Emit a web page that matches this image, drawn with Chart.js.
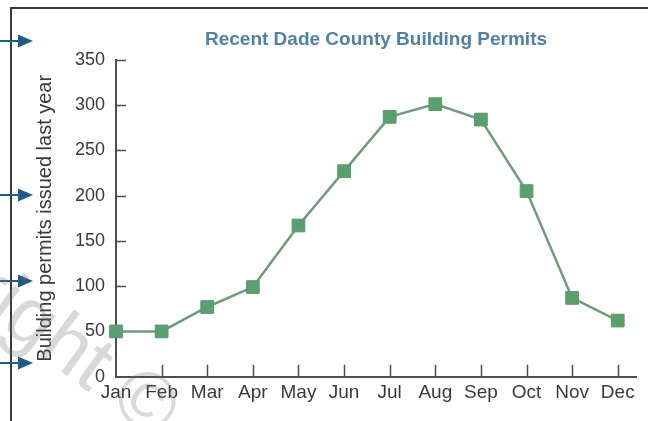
<!DOCTYPE html>
<html>
<head>
<meta charset="utf-8">
<script src="https://cdn.jsdelivr.net/npm/chart.js@4.4.1/dist/chart.umd.min.js"></script>
<style>
    html, body { margin: 0; padding: 0; background: #fff; }
    #chart { display: block; }
</style>
</head>
<body>
<canvas id="chart" width="648" height="421"></canvas>
<script>
const months = ['Jan', 'Feb', 'Mar', 'Apr', 'May', 'Jun', 'Jul', 'Aug', 'Sep', 'Oct', 'Nov', 'Dec'];
const permits = [50, 50, 77, 99, 167, 227, 287, 301, 284, 205, 87, 62];
const yTicks = [0, 50, 100, 150, 200, 250, 300, 350];

const chartTitle = 'Recent Dade County Building Permits';
const yTitle = 'Building permits issued last year';

const fontFamily = '"Liberation Sans", Arial, Helvetica, sans-serif';
const axisColor = '#4d4d4d';
const arrowRows = [41, 195, 281, 363];

// page frame + the blue pointer arrows down the left edge
const framePlugin = {
    id: 'frame',
    beforeDraw(chart) {
        const ctx = chart.ctx;
        ctx.save();
        ctx.fillStyle = '#fff';
        ctx.fillRect(0, 0, chart.width, chart.height);

        ctx.strokeStyle = '#3a3a3a';
        ctx.lineWidth = 2;
        ctx.beginPath();
        ctx.moveTo(11, chart.height);
        ctx.lineTo(11, 8);
        ctx.lineTo(chart.width, 8);
        ctx.stroke();

        ctx.strokeStyle = '#1f5b86';
        ctx.fillStyle = '#1f5b86';
        ctx.lineWidth = 2;
        arrowRows.forEach(y => {
            ctx.beginPath();
            ctx.moveTo(0, y);
            ctx.lineTo(20, y);
            ctx.stroke();
            ctx.beginPath();
            ctx.moveTo(18, y - 6.5);
            ctx.lineTo(33, y);
            ctx.lineTo(18, y + 6.5);
            ctx.closePath();
            ctx.fill();
        });
        ctx.restore();
    }
};

// faint grey copyright stamp running diagonally under the plot
const stampPlugin = {
    id: 'stamp',
    beforeDatasetsDraw(chart) {
        const ctx = chart.ctx;
        ctx.save();
        ctx.translate(155, 440);
        ctx.rotate(36 * Math.PI / 180);
        ctx.font = '80px ' + fontFamily;
        ctx.textAlign = 'right';
        ctx.textBaseline = 'alphabetic';
        ctx.fillStyle = 'rgba(110, 110, 110, 0.26)';
        ctx.fillText('Copyright \u00a9', 0, 0);
        ctx.restore();
    }
};

// tick marks point into the plot instead of out
const innerTicks = {
    id: 'innerTicks',
    beforeDatasetsDraw(chart) {
        const {ctx, chartArea: area, scales: {x, y}} = chart;
        ctx.save();
        ctx.strokeStyle = axisColor;
        ctx.lineWidth = 1.5;
        ctx.beginPath();
        y.ticks.forEach(t => {
            if (t.value === 0) return;
            const py = Math.round(y.getPixelForValue(t.value)) + 0.5;
            ctx.moveTo(area.left, py);
            ctx.lineTo(area.left + 10, py);
        });
        x.ticks.forEach(t => {
            if (t.value === 0) return;
            const px = Math.round(x.getPixelForValue(t.value)) + 0.5;
            ctx.moveTo(px, area.bottom);
            ctx.lineTo(px, area.bottom - 12);
        });
        ctx.stroke();
        ctx.restore();
    }
};

const data = {
    datasets: [{
        data: permits.map((v, i) => ({x: i, y: v})),
        borderColor: '#6f9c7d',
        borderWidth: 2.5,
        pointStyle: 'rect',
        pointRadius: 9,
        pointBackgroundColor: '#5c9f6e',
        pointBorderColor: '#5a9a6c',
        pointBorderWidth: 1,
        tension: 0,
        clip: false
    }]
};

const config = {
    type: 'line',
    data: data,
    options: {
        responsive: false,
        animation: false,
        devicePixelRatio: 1,
        layout: {
            padding: {top: 28, left: 33, right: 12, bottom: 0}
        },
        plugins: {
            legend: {display: false},
            tooltip: {enabled: false},
            title: {
                display: true,
                text: chartTitle,
                fullSize: false,
                color: '#4e80a8',
                font: {family: fontFamily, size: 19, weight: 'bold'},
                padding: {top: 0, bottom: 9}
            }
        },
        scales: {
            x: {
                type: 'linear',
                min: 0,
                max: 11.4,
                afterBuildTicks: s => {
                    s.ticks = months.map((m, i) => ({value: i}));
                },
                afterFit: s => { s.height = 44.3; },
                grid: {display: true, drawOnChartArea: false, drawTicks: false},
                border: {color: axisColor, width: 2},
                ticks: {
                    callback: v => months[v],
                    color: '#3a3a3a',
                    padding: 5,
                    maxRotation: 0,
                    autoSkip: false,
                    font: {family: fontFamily, size: 19}
                }
            },
            y: {
                min: 0,
                max: 350,
                afterBuildTicks: s => {
                    s.ticks = yTicks.map(v => ({value: v}));
                },
                afterFit: s => { s.width = 83; },
                grid: {display: true, drawOnChartArea: false, drawTicks: false},
                border: {color: axisColor, width: 2},
                ticks: {
                    color: '#3a3a3a',
                    padding: 11,
                    font: {family: fontFamily, size: 18}
                },
                title: {
                    display: true,
                    text: yTitle,
                    color: '#3a3a3a',
                    padding: {top: 0, bottom: 0},
                    font: {family: fontFamily, size: 20}
                }
            }
        }
    },
    plugins: [framePlugin, stampPlugin, innerTicks]
};

const myChart = new Chart(
    document.getElementById('chart'),
    config
);
</script>
</body>
</html>
